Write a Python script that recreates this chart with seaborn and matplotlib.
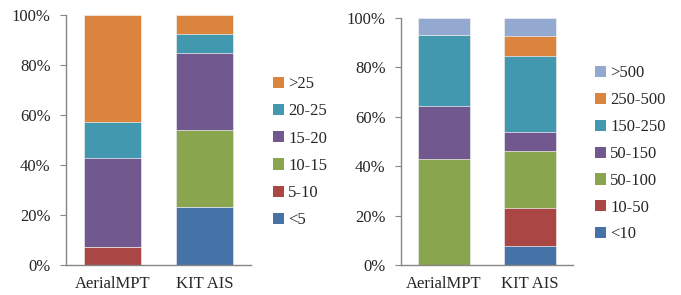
import matplotlib
matplotlib.use("Agg")
import matplotlib.pyplot as plt
from matplotlib.patches import Patch
from matplotlib.ticker import PercentFormatter
import seaborn as sns
import pandas as pd
import numpy as np

datasets = ["AerialMPT", "KIT AIS"]

# left chart: share of ... per bin (%)
left_bins = ["<5", "5-10", "10-15", "15-20", "20-25", ">25"]
left_aerial = [0.0, 7.1, 0.0, 35.7, 14.3, 42.9]
left_kit = [23.1, 0.0, 30.8, 30.8, 7.7, 7.6]
left_colors = ["#4572A7", "#AA4643", "#89A54E", "#71588F", "#4198AF", "#DB843D"]

# right chart
right_bins = ["<10", "10-50", "50-100", "50-150", "150-250", "250-500", ">500"]
right_aerial = [0.0, 0.0, 42.9, 21.4, 28.6, 0.0, 7.1]
right_kit = [7.7, 15.4, 23.1, 7.7, 30.8, 7.7, 7.6]
right_colors = ["#4572A7", "#AA4643", "#89A54E", "#71588F", "#4198AF", "#DB843D", "#93A9CF"]

sns.set_style("white")
plt.rcParams["font.family"] = ["Liberation Serif", "DejaVu Serif"]
plt.rcParams["font.size"] = 12

fig = plt.figure(figsize=(6.81, 2.95), dpi=100)
ax1 = fig.add_axes([0.0969, 0.1017, 0.2712, 0.8475])
ax2 = fig.add_axes([0.5888, 0.1017, 0.2530, 0.8383])

SPINE = "#868686"


def stacked(ax, bins, aerial, kit, colors, width, legend_x, legend_y, spacing):
    df = pd.DataFrame({"dataset": datasets})
    for i, b in enumerate(bins):
        df[b] = [aerial[i], kit[i]]
    cum = df[bins].cumsum(axis=1)
    # draw from the top segment down so each lower one covers the rest
    for b, c in reversed(list(zip(bins, colors))):
        sns.barplot(data=cum, x=df["dataset"], y=b, color=c, width=width,
                    saturation=1, ax=ax, edgecolor="#f0f0f0", linewidth=0.5)
    ax.set_xlim(-0.5, 1.5)
    ax.set_ylim(0, 100)
    ax.set_yticks(np.arange(0, 101, 20))
    ax.yaxis.set_major_formatter(PercentFormatter(decimals=0))
    ax.set_xlabel("")
    ax.set_ylabel("")
    ax.set_xticks([-0.5, 0.5, 1.5], minor=True)
    ax.tick_params(axis="x", which="major", length=0, pad=8)
    ax.tick_params(axis="x", which="minor", length=4, color=SPINE, direction="out")
    ax.tick_params(axis="y", length=4, color=SPINE, direction="out", left=True, pad=7)
    for s in ["top", "right"]:
        ax.spines[s].set_visible(False)
    for s in ["left", "bottom"]:
        ax.spines[s].set_color(SPINE)
        ax.spines[s].set_linewidth(1.0)
    handles = [Patch(facecolor=c, edgecolor="none", label=b) for b, c in zip(bins, colors)]
    fig.legend(handles=handles[::-1], loc="center left",
               bbox_to_anchor=(legend_x, legend_y), frameon=False,
               handlelength=0.65, handleheight=0.65, handletextpad=0.25,
               labelspacing=spacing, fontsize=12, borderaxespad=0, borderpad=0)


stacked(ax1, left_bins, left_aerial, left_kit, left_colors, 0.62, 0.401, 0.484, 0.67)
stacked(ax2, right_bins, right_aerial, right_kit, right_colors, 0.6, 0.874, 0.478, 0.65)

fig.savefig("out.png", dpi=100)
